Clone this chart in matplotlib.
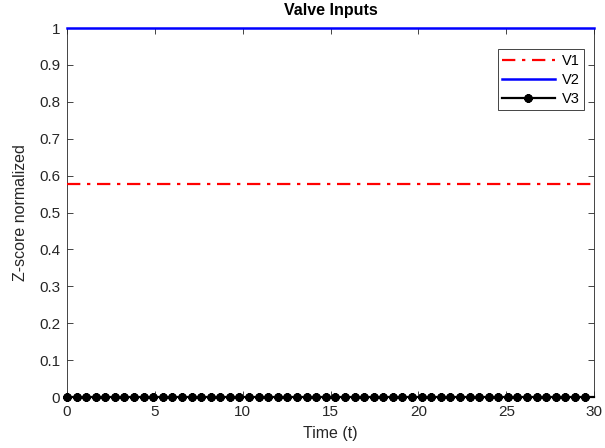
import numpy as np
import matplotlib.pyplot as plt

plt.rcParams['font.family'] = ['Liberation Sans', 'DejaVu Sans']

# data
t = np.linspace(0, 30, 56)
v1 = np.full_like(t, 0.577)
v2 = np.full_like(t, 1.0)
v3 = np.full_like(t, 0.0)
labels = ["V1", "V2", "V3"]
xticks = [0, 5, 10, 15, 20, 25, 30]
yticks = [0, 0.1, 0.2, 0.3, 0.4, 0.5, 0.6, 0.7, 0.8, 0.9, 1]

fig = plt.figure(figsize=(6.05, 4.48), dpi=100)
ax = fig.add_axes([0.1107, 0.1138, 0.8713, 0.8237])

ax.plot(t, v1, color="#ff0000", linestyle=(0, (6, 3, 1.5, 3)), linewidth=1.6,
        label=labels[0], zorder=3)
ax.plot(t, v2, color="#0000ff", linestyle="-", linewidth=1.8, label=labels[1],
        zorder=3, clip_on=False)
ax.plot(t, v3, color="black", linestyle="-", linewidth=1.6, marker=(8, 2, 0),
        markersize=6, markeredgewidth=2.0, markevery=slice(0, 55),
        label=labels[2], zorder=3, clip_on=False)

ax.set_xlim(0, 30)
ax.set_ylim(0, 1)
ax.set_xticks(xticks)
ax.set_xticklabels([str(x) for x in xticks])
ax.set_yticks(yticks)
ax.set_yticklabels(["0", "0.1", "0.2", "0.3", "0.4", "0.5", "0.6", "0.7", "0.8", "0.9", "1"])
ax.tick_params(direction="in", top=True, right=True, labelsize=11,
               colors="#262626", length=4, width=0.6)
ax.tick_params(axis="x", pad=6)
ax.tick_params(axis="y", pad=5)
for s in ax.spines.values():
    s.set_color("#262626")
    s.set_linewidth(0.6)

ax.set_xlabel("Time (t)", fontsize=11.5, color="#262626", labelpad=5)
ax.set_ylabel("Z-score normalized", fontsize=11.5, color="#262626", labelpad=8)
ax.set_title("Valve Inputs", fontsize=11.5, fontweight="bold", pad=9)

leg = ax.legend(loc="upper right", fontsize=10.5, fancybox=False, framealpha=1,
                edgecolor="#262626", handlelength=3.6, borderpad=0.3,
                labelspacing=0.35, handletextpad=0.5,
                bbox_to_anchor=(0.995, 0.962))
leg.get_frame().set_linewidth(0.6)

fig.savefig("out.png", dpi=100)
